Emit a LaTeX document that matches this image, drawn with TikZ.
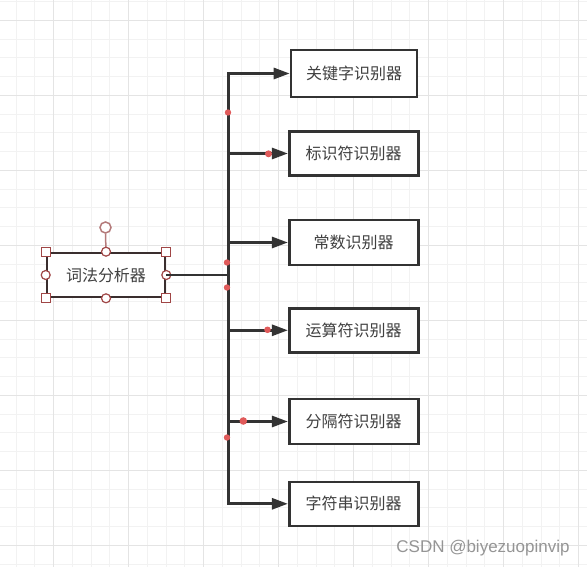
\documentclass[tikz,border=0pt]{standalone}
\usepackage{fontspec}
\newfontfamily\cjk{Noto Sans CJK SC}
\setsansfont{Liberation Sans}
\usetikzlibrary{arrows.meta}
\definecolor{gminor}{HTML}{F2F2F2}
\definecolor{gmajor}{HTML}{E4E4E4}
\definecolor{ink}{HTML}{333333}
\definecolor{txt}{HTML}{404040}
\definecolor{lexink}{HTML}{3A2E2E}
\definecolor{handle}{HTML}{A04646}
\definecolor{rothandle}{HTML}{B47A7A}
\definecolor{wp}{HTML}{E05A5A}
\definecolor{wm}{HTML}{959595}
\tikzset{
  minorline/.style={draw=gminor,line width=1pt},
  majorline/.style={draw=gmajor,line width=1pt},
  recog/.style={draw=ink,line width=2.6pt,fill=white,inner sep=0pt,
    font=\cjk\fontsize{16}{19}\selectfont,text=txt},
  conn/.style={draw=ink,line width=2.8pt},
  arr/.style={conn,-{Triangle[length=16pt,width=11pt]}},
  sqh/.style={draw=handle,fill=white,line width=1.2pt,minimum size=9pt,inner sep=0pt},
  cirh/.style={draw=handle,fill=white,line width=1.2pt,circle,minimum size=9pt,inner sep=0pt},
  wpdot/.style={fill=wp},
}
\begin{document}
\begin{tikzpicture}[x=1pt,y=-1pt]
\useasboundingbox (0,0) rectangle (587,567);
\fill[white] (0,0) rectangle (587,567);
% grid
\foreach \i in {0,...,31} {\draw[minorline] ({16+18.75*\i},0) -- ++(0,567);}
\foreach \i in {0,...,30} {\draw[minorline] (0,{1.55+18.75*\i}) -- ++(587,0);}
\foreach \i in {0,...,7} {\draw[majorline] ({53.3+75*\i},0) -- ++(0,567);}
\foreach \i in {0,...,7} {\draw[majorline] (0,{20.3+75*\i}) -- ++(587,0);}

% lexer box
\node[recog,draw=lexink,minimum width=118pt,minimum height=44pt] (lex) at (106,275) {词法分析器};

% recognizer boxes
\node[recog,minimum width=126pt,minimum height=47pt] (k1) at (354,73.5) {关键字识别器};
\node[recog,minimum width=129pt,minimum height=44pt] (k2) at (353.7,153.5) {标识符识别器};
\node[recog,minimum width=129pt,minimum height=45pt] (k3) at (353.7,242.5) {常数识别器};
\node[recog,minimum width=129pt,minimum height=44pt] (k4) at (353.7,330.3) {运算符识别器};
\node[recog,minimum width=129pt,minimum height=45pt] (k5) at (353.7,421.5) {分隔符识别器};
\node[recog,minimum width=129pt,minimum height=44pt] (k6) at (353.7,503.8) {字符串识别器};

% selection handles
\node[cirh,draw=rothandle,line width=1.5pt,minimum size=11pt] (rot) at (105.5,227.5) {};
\draw[rothandle,line width=1.5pt] (rot.south) -- (lex.north);
\node[sqh] (h1) at (lex.north west) {};
\node[sqh] (h2) at (lex.north east) {};
\node[sqh] (h3) at (lex.south west) {};
\node[sqh] (h4) at (lex.south east) {};
\node[cirh] (h5) at (lex.north) {};
\node[cirh] (h6) at (lex.south) {};
\node[cirh] (h7) at (lex.west) {};
\node[cirh] (h8) at (lex.east) {};

% connectors
\coordinate (j) at (228.3,275);
\draw[conn] (h8.center) -- (j);
\draw[arr] (j) |- (k1.west);
\draw[arr] (j) |- (k6.west);
\draw[arr] (k2.west -| j) -- (k2.west);
\draw[arr] (k3.west -| j) -- (k3.west);
\draw[arr] (k4.west -| j) -- (k4.west);
\draw[arr] (k5.west -| j) -- (k5.west);

% waypoint markers
\fill[wpdot] (228,112.5) circle (3.2pt);
\fill[wpdot] (268.5,153.8) circle (3.5pt);
\fill[wpdot] (227,262.5) circle (3.2pt);
\fill[wpdot] (227,287.5) circle (3.2pt);
\fill[wpdot] (267.5,329.8) circle (3.3pt);
\fill[wpdot] (243.3,421) circle (3.8pt);
\fill[wpdot] (227,437.5) circle (3.2pt);

% watermark
\node[text=wm,font=\sffamily\fontsize{17}{20}\selectfont,inner sep=0pt] (wmark) at (483,548) {CSDN @biyezuopinvip};
\end{tikzpicture}
\end{document}
